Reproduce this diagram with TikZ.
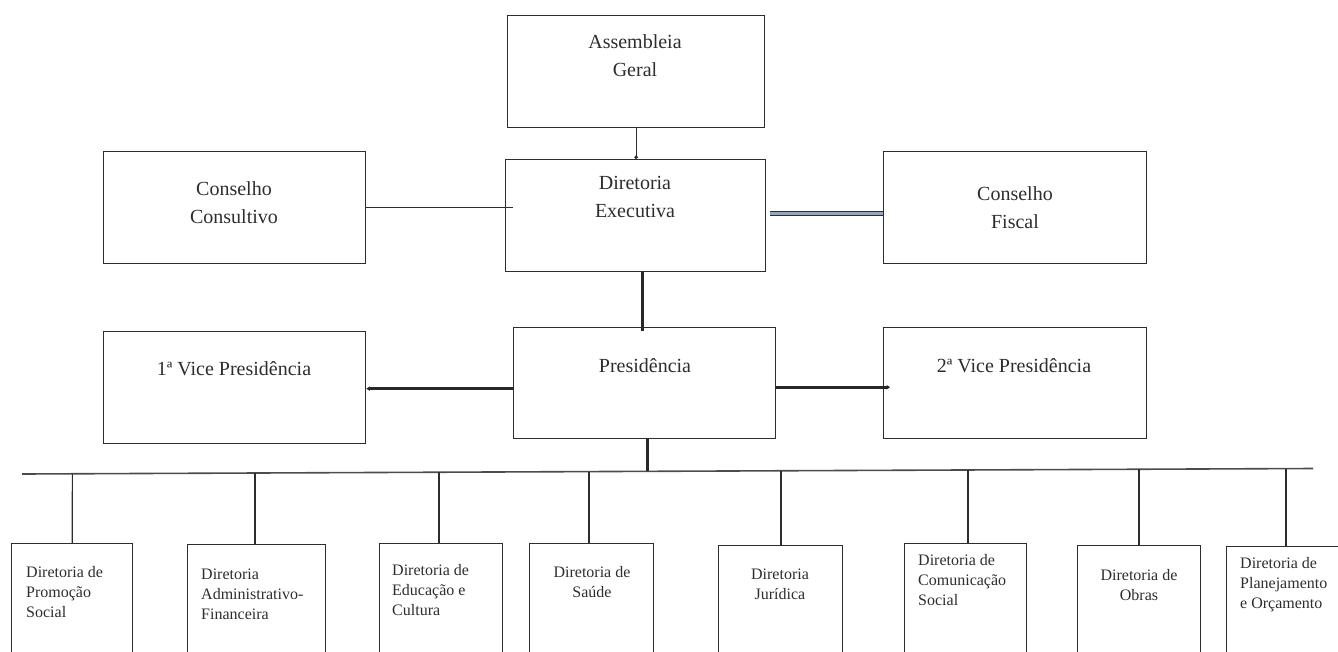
\documentclass[tikz,border=0pt]{standalone}
\usepackage{fontspec}
\setmainfont{Liberation Serif}
\usetikzlibrary{arrows.meta,calc}
\definecolor{ink}{RGB}{45,45,45}
\definecolor{dblfill}{RGB}{150,165,185}
\tikzset{
  box/.style={draw=ink, line width=1.4pt, rectangle, inner sep=0pt, anchor=north west},
  bigtext/.style={font=\fontsize{20}{28}\selectfont, text=ink, inner sep=0pt, anchor=north, align=center},
  smalltextl/.style={font=\fontsize{16}{20}\selectfont, text=ink, inner sep=0pt, anchor=north west, align=left},
  smalltextc/.style={font=\fontsize{16}{20}\selectfont, text=ink, inner sep=0pt, anchor=north, align=center},
  thinlink/.style={draw=ink, line width=1.2pt},
  thicklink/.style={draw=ink!90!black, line width=3pt},
  dbllink/.style={draw=ink, line width=1.1pt, double=dblfill, double distance=2.2pt},
  barline/.style={draw=ink!85, line width=1.6pt},
  smalltip/.style={-{Stealth[length=3.5pt,width=4.5pt]}},
}
\begin{document}
\begin{tikzpicture}[x=1pt,y=-1pt]
\useasboundingbox (0,0) rectangle (1338,651);
\clip (0,0) rectangle (1338,651);
% top boxes
\node[box, minimum width=257pt, minimum height=111.7pt] (ag) at (507,15) {};
\node[box, minimum width=260pt, minimum height=111.7pt] (de) at (505,159) {};
\node[box, minimum width=262pt, minimum height=111.7pt] (cc) at (103,151) {};
\node[box, minimum width=263pt, minimum height=111.7pt] (cf) at (883,151) {};
\node[box, minimum width=262pt, minimum height=111.7pt] (vp1) at (103,331) {};
\node[box, minimum width=262pt, minimum height=111pt] (pres) at (513,327) {};
\node[box, minimum width=263pt, minimum height=111pt] (vp2) at (883,327) {};
% texts
\node[bigtext] (agt) at (635,34) {Assembleia\\Geral};
\node[bigtext] (det) at (635,176) {Diretoria\\Executiva};
\node[bigtext] (cct) at (234,181.3) {Conselho\\Consultivo};
\node[bigtext] (cft) at (1015,186) {Conselho\\Fiscal};
\node[bigtext] (vp1t) at (234,361.3) {1ª Vice Presidência};
\node[bigtext] (prest) at (645,358.3) {Presidência};
\node[bigtext] (vp2t) at (1014,358.3) {2ª Vice Presidência};
% bottom boxes
\node[box, minimum width=121pt, minimum height=160pt] (b1) at (11,543) {};
\node[box, minimum width=138pt, minimum height=160pt] (b2) at (187,544) {};
\node[box, minimum width=123pt, minimum height=160pt] (b3) at (379,543) {};
\node[box, minimum width=124pt, minimum height=160pt] (b4) at (529,543) {};
\node[box, minimum width=124pt, minimum height=160pt] (b5) at (717.5,545) {};
\node[box, minimum width=122pt, minimum height=160pt] (b6) at (903.5,543) {};
\node[box, minimum width=123pt, minimum height=160pt] (b7) at (1077,545) {};
\node[box, minimum width=170pt, minimum height=160pt] (b8) at (1225.7,546) {};
\node[smalltextl] (b1t) at (26,566) {Diretoria de\\Promoção\\Social};
\node[smalltextl] (b2t) at (201,569) {Diretoria\\Administrativo-\\Financeira};
\node[smalltextl] (b3t) at (392,564) {Diretoria de\\Educação e\\Cultura};
\node[smalltextc] (b4t) at (592,566) {Diretoria de\\Saúde};
\node[smalltextc] (b5t) at (780,569) {Diretoria\\Jurídica};
\node[smalltextl] (b6t) at (918,554) {Diretoria de\\Comunicação\\Social};
\node[smalltextc] (b7t) at (1139,569) {Diretoria de\\Obras};
\node[smalltextl] (b8t) at (1240,557) {Diretoria de\\Planejamento\\e Orçamento};
% bar
\coordinate (barL) at (22,474);
\coordinate (barR) at (1313,468.5);
\draw[barline] (barL) -- (barR);
\coordinate (t1) at (72.4,473.8);
\coordinate (t2) at (255,473.0);
\coordinate (t3) at (439,472.2);
\coordinate (t4) at (589,471.6);
\coordinate (tp) at (647,471.3);
\coordinate (t5) at (781,470.8);
\coordinate (t6) at (968,470.0);
\coordinate (t7) at (1139,469.2);
\coordinate (t8) at (1286,468.6);
% connectors
\draw[thinlink, -{Circle[length=3.5pt]}] (ag.south) -- (ag.south |- de.north);
\draw[thinlink] (cc.east) -- ([xshift=8pt]cc.east -| de.west);
\draw[dbllink] ([xshift=4pt,yshift=2pt]de.east) -- ([yshift=2pt]de.east -| cf.west);
\draw[thicklink, shorten >=-4pt] ([xshift=7pt]de.south) -- ([xshift=7pt]de.south |- pres.north);
\draw[thicklink, smalltip] ([yshift=-5.5pt]pres.west) -- ([yshift=-5.5pt]pres.west -| vp1.east);
\draw[thicklink, smalltip] ([yshift=-4pt]pres.east) -- ([yshift=-4pt,xshift=7pt]pres.east -| vp2.west);
\draw[thicklink] (tp |- pres.south) -- (tp);
\draw[thinlink] (t1) -- (b1.north);
\draw[thinlink] (t2) -- (t2 |- b2.north);
\draw[thinlink] (t3) -- (t3 |- b3.north);
\draw[thinlink] (t4) -- (t4 |- b4.north);
\draw[thinlink] (t5) -- (t5 |- b5.north);
\draw[thinlink] (t6) -- (t6 |- b6.north);
\draw[thinlink] (t7) -- (t7 |- b7.north);
\draw[thinlink] (t8) -- (t8 |- b8.north);
\end{tikzpicture}
\end{document}
